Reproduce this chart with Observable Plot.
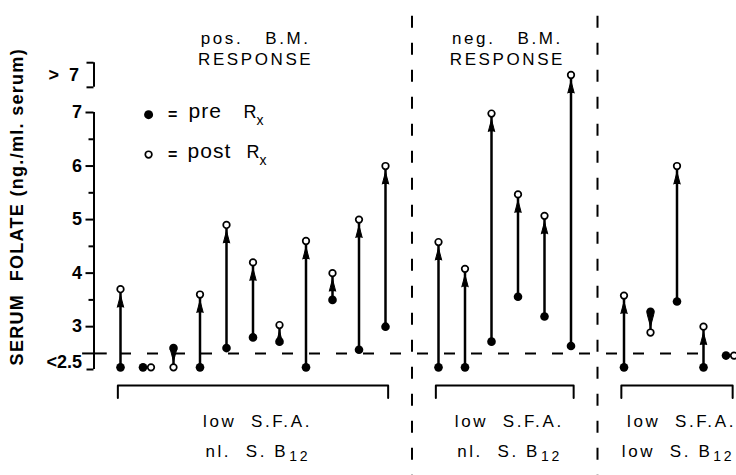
<!DOCTYPE html>
<html><head><meta charset="utf-8">
<script src="https://cdn.jsdelivr.net/npm/d3@7"></script>
<script src="https://cdn.jsdelivr.net/npm/@observablehq/plot@0.6"></script>
<style>
html,body{margin:0;padding:0;background:#fff;overflow:hidden;}
g[aria-description="spaced"] text{letter-spacing:2.6px;}
g[aria-description="legend"] text{letter-spacing:1px;}
g[aria-description="ytitle"] text{letter-spacing:1.3px;}
</style>
</head><body><div id="chart"></div>
<script>
// plotted levels for off-scale readings
const L = 2.24; // "<2.5"
const G = 7.7;  // ">7"

// group headings
const topLine1 = ["pos.   B.M.", "neg.   B.M.", ""];
const topLine2 = ["RESPONSE", "RESPONSE", ""];
const bottomLine1 = ["low  S.F.A.", "low  S.F.A.", "low  S.F.A."];
const bottomLine2 = ["nl.  S. B", "nl.  S. B", "low  S. B"];

// serum folate, ng/ml, pre and post treatment, per patient
const pre1  = [L, L, 2.6, L, 2.6, 2.8, 2.72, L, 3.5, 2.57, 3.0];
const post1 = [3.7, L, L, 3.6, 4.9, 4.2, 3.03, 4.6, 4.0, 5.0, 6.0];
const pre2  = [L, L, 2.72, 3.56, 3.19, 2.64];
const post2 = [4.58, 4.08, 6.98, 5.47, 5.07, G];
const pre3  = [L, 3.28, 3.47, L, 2.46];
const post3 = [3.58, 2.89, 6.0, 3.0, 2.46];

const yTicks = [3, 4, 5, 6, 7];
const yMinor = [3.5, 4.5, 5.5, 6.5];
const threshold = 2.5;

const groups = [{pre: pre1, post: post1}, {pre: pre2, post: post2}, {pre: pre3, post: post3}];
let start = 0;
const pts = [], seps = [], spans = [];
groups.forEach((g, gi) => {
  g.pre.forEach((p, i) => pts.push({g: gi, x: start + i, pre: p, post: g.post[i]}));
  spans.push({g: gi, first: start, last: start + g.pre.length - 1, mid: start + (g.pre.length - 1) / 2,
    t1: topLine1[gi], t2: topLine2[gi], b1: bottomLine1[gi], b2: bottomLine2[gi]});
  start += g.pre.length;
  if (gi < groups.length - 1) { seps.push(start); start += 1; }
});
const up = pts.filter(d => d.post > d.pre);
const down = pts.filter(d => d.post < d.pre);
const arrows = pts.filter(d => d.post !== d.pre);
const flat = pts.filter(d => d.post === d.pre);
const brackets = spans.flatMap(s => [
  {g: s.g, x: s.first - 0.1, y: 1.67}, {g: s.g, x: s.first - 0.1, y: 1.9},
  {g: s.g, x: s.last + 0.1, y: 1.9}, {g: s.g, x: s.last + 0.1, y: 1.67}]);

const font = "Liberation Sans, Arial, sans-serif";
const sw = 2;

const chart = Plot.plot({
  width: 736, height: 475,
  marginTop: 112, marginBottom: 106, marginLeft: 93.5, marginRight: 23,
  style: {fontFamily: font, fontSize: "16px", color: "black", background: "white"},
  x: {domain: [-1, 23], range: [93.5, 729.5], axis: null},
  y: {domain: [2.2, 7], axis: null},
  marks: [
    // separators between groups
    Plot.ruleX(seps, {y1: 8.8, y2: 0.2, strokeWidth: sw, strokeDasharray: "12,15"}),
    // threshold line
    Plot.ruleY([threshold], {x1: -0.5, x2: 22.4, strokeWidth: sw, strokeDasharray: "11,16", strokeDashoffset: 13.75}),
    Plot.ruleY([threshold], {x1: -1.43, x2: -0.5, strokeWidth: sw}),
    // y axis
    Plot.ruleX([-1], {y1: 2.2, y2: 7, strokeWidth: sw}),
    Plot.ruleX([-1], {y1: 7.47, y2: 7.93, strokeWidth: sw}),
    Plot.axisY({ticks: yTicks, tickSize: 8, tickPadding: 4, strokeWidth: sw, label: null, tickFormat: d3.format("d"), fontSize: 18, fontWeight: "bold"}),
    Plot.axisY({ticks: yMinor, tickSize: 5, strokeWidth: sw, tickFormat: () => "", label: null}),
    Plot.axisY({ticks: [2.2, 7.47, 7.93], tickSize: 7, strokeWidth: sw, tickFormat: () => "", label: null}),
    Plot.axisY({ticks: [2.33], tickSize: 0, tickPadding: 12, tickFormat: () => "<2.5", label: null, fontSize: 18, fontWeight: "bold"}),
    Plot.axisY({ticks: [7.7], tickSize: 0, tickPadding: 15, tickFormat: () => ">  7", label: null, fontSize: 18, fontWeight: "bold"}),
    Plot.text(["SERUM  FOLATE (ng./ml. serum)"], {x: -3.89, y: 5.24, rotate: -90, fontSize: 18, fontWeight: "bold", fill: "black", ariaDescription: "ytitle"}),
    // brackets
    Plot.line(brackets, {x: "x", y: "y", z: "g", strokeWidth: sw}),
    // arrows
    Plot.ruleX(arrows, {x: "x", y1: "pre", y2: "post", strokeWidth: 2.5}),
    Plot.vector(up, {x: "x", y: "post", rotate: 0, anchor: "end", shape: "spike", length: 12, r: 3.2, dy: 6, fill: "black", stroke: "black", strokeWidth: 1}),
    Plot.vector(down, {x: "x", y: "post", rotate: 180, anchor: "end", shape: "spike", length: 12, r: 3.2, dy: -6, fill: "black", stroke: "black", strokeWidth: 1}),
    Plot.dot(arrows, {x: "x", y: "pre", r: 4.3, fill: "black"}),
    Plot.dot(arrows, {x: "x", y: "post", r: 3.3, fill: "white", stroke: "black", strokeWidth: 1.7}),
    Plot.dot(flat, {x: "x", y: "pre", dx: -4, r: 4.3, fill: "black"}),
    Plot.dot(flat, {x: "x", y: "post", dx: 4, r: 3.3, fill: "white", stroke: "black", strokeWidth: 1.7}),
    // legend
    Plot.dot(["pre"], {x: 1.06, y: 6.96, r: 4.5, fill: "black"}),
    Plot.dot(["post"], {x: 1.06, y: 6.215, r: 3.3, fill: "white", stroke: "black", strokeWidth: 1.7}),
    Plot.text(["="], {x: 1.06, y: 6.96, dx: 24, fontSize: 16, fontWeight: "bold", fill: "black"}),
    Plot.text(["="], {x: 1.06, y: 6.215, dx: 24, fontSize: 16, fontWeight: "bold", fill: "black"}),
    Plot.text(["pre"], {x: 1.06, y: 6.96, dx: 40, dy: -3, textAnchor: "start", fontSize: 21, fill: "black", ariaDescription: "legend"}),
    Plot.text(["post"], {x: 1.06, y: 6.215, dx: 39, dy: -3, textAnchor: "start", fontSize: 21, fill: "black", ariaDescription: "legend"}),
    Plot.text(["R"], {x: 1.06, y: 6.96, dx: 95, dy: -2, textAnchor: "start", fontSize: 18, fill: "black"}),
    Plot.text(["R"], {x: 1.06, y: 6.215, dx: 98, dy: -2, textAnchor: "start", fontSize: 18, fill: "black"}),
    Plot.text(["x"], {x: 1.06, y: 6.96, dx: 108, dy: 6, textAnchor: "start", fontSize: 14, fill: "black"}),
    Plot.text(["x"], {x: 1.06, y: 6.215, dx: 111, dy: 6, textAnchor: "start", fontSize: 14, fill: "black"}),
    // group headings
    Plot.text(spans, {x: d => d.mid + 0.1, y: 8.38, text: "t1", fontSize: 17, fill: "black", ariaDescription: "spaced"}),
    Plot.text(spans, {x: d => d.mid + 0.1, y: 7.99, text: "t2", fontSize: 17, fill: "black", ariaDescription: "spaced"}),
    Plot.text(spans, {x: d => d.mid + 0.17, y: 1.229, text: "b1", fontSize: 17, fill: "black", ariaDescription: "spaced"}),
    Plot.text(spans, {x: d => d.mid + 0.05, y: 0.668, text: "b2", dx: 34, textAnchor: "end", fontSize: 17, fill: "black", ariaDescription: "spaced"}),
    Plot.text(spans, {x: d => d.mid + 0.05, y: 0.668, text: () => "12", dx: 35, dy: 5, textAnchor: "start", fontSize: 14, fill: "black", ariaDescription: "spaced"})
  ]
});
document.getElementById("chart").appendChild(chart);
</script>
</body></html>
